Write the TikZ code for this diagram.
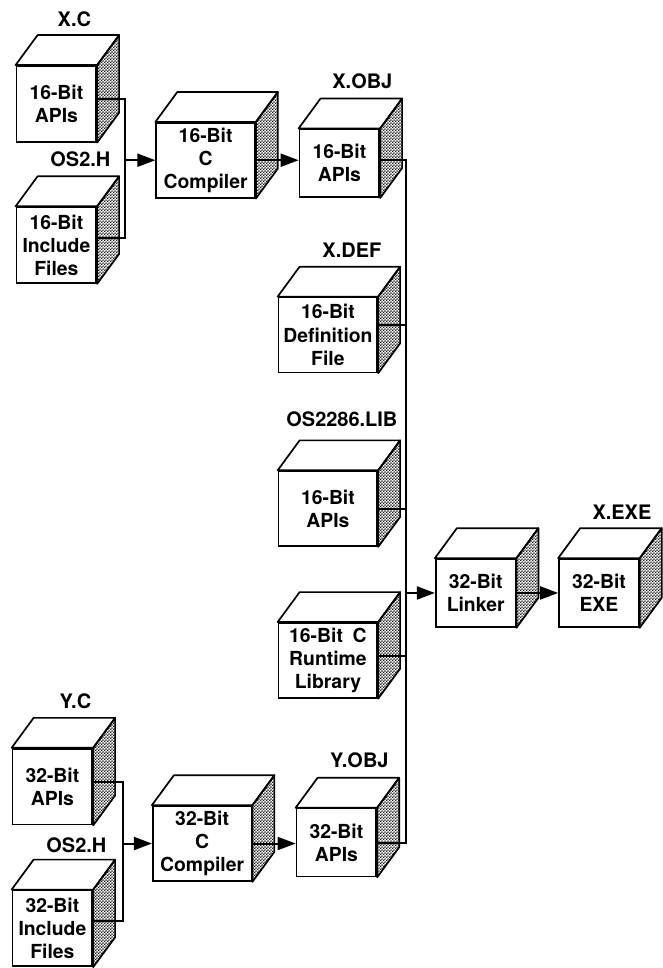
\documentclass[tikz,border=0pt]{standalone}
\usepackage{fontspec}
\setmainfont{TeX Gyre Heros}
\usepackage{tikz}
\usetikzlibrary{positioning,arrows.meta,patterns}

% fine dot texture for the cube sides
\pgfdeclarepatternformonly{cubedots}{\pgfpoint{0pt}{0pt}}{\pgfpoint{1.4pt}{1.4pt}}{\pgfpoint{1.4pt}{1.4pt}}{
  \pgfpathcircle{\pgfpoint{0.35pt}{0.35pt}}{0.42pt}
  \pgfpathcircle{\pgfpoint{1.05pt}{1.05pt}}{0.42pt}
  \pgfusepath{fill}}

\begin{document}
\begin{tikzpicture}[
        x=0.5pt, y=-0.5pt,
        cube/.style={rectangle, draw, fill=white, line width=0.85pt, align=center, inner sep=1pt, font=\bfseries\fontsize{9.7}{11.6}\selectfont},
        narrow/.style={cube, minimum width=40pt, minimum height=34pt},
        tall/.style={cube, minimum width=40pt, minimum height=38pt},
        wide/.style={cube, minimum width=49.5pt, minimum height=37.5pt},
        face/.style={draw, fill=white, line width=0.85pt, line join=round},
        side/.style={draw, pattern=cubedots, line width=0.85pt, line join=round},
        tag/.style={font=\bfseries\fontsize{10}{12}\selectfont, inner sep=0pt},
        line/.style={line width=1pt},
        arrow/.style={line, -{Triangle[length=9pt, width=6.5pt]}}
    ]
        \fill[white] (0,0) rectangle (658,968);

        % 16-bit sources
        \node[tall] (xc) at (56.5,104) {16-Bit\\APIs};
        \node[tall] (xh) at (56.5,245.5) {16-Bit\\Include\\Files};
        \node[wide] (cc16) at (206,160.5) {16-Bit\\C\\Compiler};
        \node[narrow] (xobj) at (340,163.5) {16-Bit\\APIs};

        % link inputs
        \node[wide] (xdef) at (328.5,335.5) {16-Bit\\Definition\\File};
        \node[wide] (lib) at (328.5,509.5) {16-Bit\\APIs};
        \node[wide] (crt) at (328.5,661.5) {16-Bit\enspace C\\Runtime\\Library};

        % linker and result
        \node[narrow] (link) at (476.5,594) {32-Bit\\Linker};
        \node[narrow] (exe) at (600,594) {32-Bit\\EXE};

        % 32-bit sources
        \node[tall] (yc) at (52.5,788) {32-Bit\\APIs};
        \node[tall] (yh) at (52.5,930) {32-Bit\\Include\\Files};
        \node[wide] (cc32) at (202.5,845) {32-Bit\\C\\Compiler};
        \node[narrow] (yobj) at (337,844) {32-Bit\\APIs};

        % top and side of every cube
        \foreach \n in {xc,xh,cc16,xobj,xdef,lib,crt,link,exe,yc,yh,cc32,yobj} {
            \draw[face] (\n.north west) -- ++(22,-30) -- ([shift={(22,-30)}]\n.north east) -- (\n.north east) -- cycle;
            \draw[side] (\n.north east) -- ++(22,-30) -- ([shift={(22,-30)}]\n.south east) -- (\n.south east) -- cycle;
        }

        % file names
        \node[tag, above=19pt of xc.north, xshift=9pt] (xctag) {X.C};
        \node[tag, above=19.5pt of xh.north, xshift=12pt] (xhtag) {OS2.H};
        \node[tag, above=19.5pt of xobj.north, xshift=11.5pt] (xobjtag) {X.OBJ};
        \node[tag, above=19.5pt of xdef.north, xshift=12pt] (xdeftag) {X.DEF};
        \node[tag, above=21.5pt of lib.north, xshift=7pt] (libtag) {OS2286.LIB};
        \node[tag, above=19pt of exe.north, xshift=11.5pt] (exetag) {X.EXE};
        \node[tag, above=19.5pt of yc.north, xshift=11.5pt] (yctag) {Y.C};
        \node[tag, above=18.5pt of yh.north, xshift=12pt] (yhtag) {OS2.H};
        \node[tag, above=20pt of yobj.north, xshift=11.5pt] (yobjtag) {Y.OBJ};

        % 16-bit compile
        \coordinate[left=15pt of cc16.west] (join16);
        \draw[line] ([yshift=2.5pt]xc.east) -| (join16) |- ([yshift=3.75pt]xh.east);
        \draw[arrow] (join16) -- (cc16.west);
        \draw[arrow] (cc16.east) -- (cc16.east -| xobj.west);

        % 32-bit compile
        \coordinate[left=14.5pt of cc32.west] (join32);
        \draw[line] ([yshift=2.5pt]yc.east) -| (join32) |- ([yshift=3.5pt]yh.east);
        \draw[arrow] (join32) -- (cc32.west);
        \draw[arrow] (cc32.east) -- (cc32.east -| yobj.west);

        % link bus
        \coordinate[left=14.5pt of link.west] (bus);
        \draw[line] ([yshift=1.75pt]xobj.east) -| (bus);
        \draw[line] ([yshift=4.75pt]xdef.east) -| (bus);
        \draw[line] (lib.east) -| (bus);
        \draw[line] ([yshift=2.25pt]crt.east) -| (bus);
        \draw[line] (yobj.east) -| (bus);
        \draw[arrow] (bus) -- (link.west);
        \draw[arrow] (link.east) -- (exe.west);
    \end{tikzpicture}
\end{document}
